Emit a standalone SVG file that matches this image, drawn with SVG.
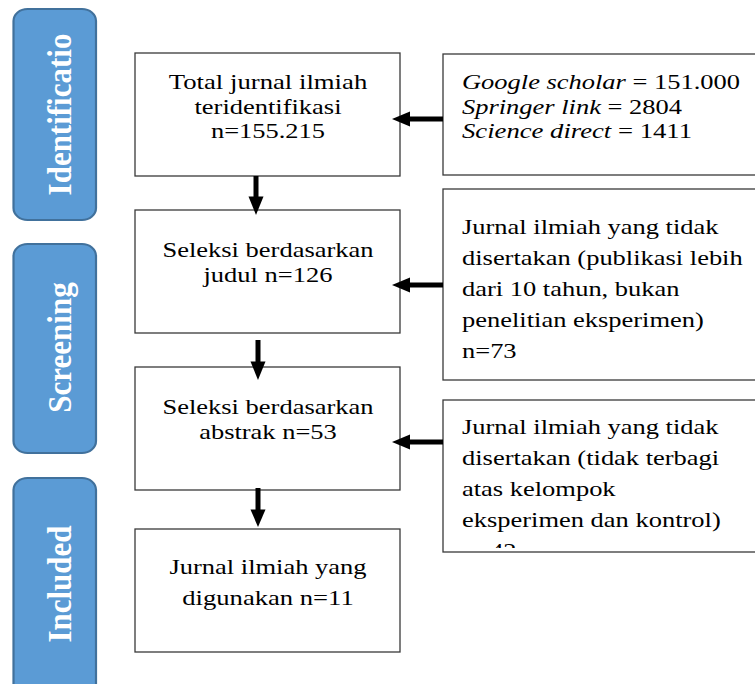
<svg xmlns="http://www.w3.org/2000/svg" width="755" height="684" viewBox="0 0 755 684">
<style>
.bg{fill:#ffffff}
.box{fill:#ffffff;stroke:#3a3a3a;stroke-width:1.3}
.lbl{fill:#5B9BD5;stroke:#41719C;stroke-width:2.2}
.t{font-family:"Liberation Serif","Times New Roman","DejaVu Serif",serif;font-size:21px;fill:#000}
.i{font-style:italic}
.lt{font-family:"Liberation Serif","Times New Roman","DejaVu Serif",serif;font-weight:bold;font-size:31px;fill:#ffffff}
.sh{stroke:#000;stroke-width:5;fill:none}
.hd{fill:#000}
</style>
<defs>
<clipPath id="clipR3"><rect x="443" y="400" width="320" height="148"/></clipPath>
</defs>
<rect class="bg" x="0" y="0" width="755" height="684"/>

<g id="label-identification">
<rect class="lbl" x="13.5" y="9" width="82.5" height="211" rx="14" ry="12"/>
<text class="lt" text-anchor="middle" transform="translate(71,114.5) scale(1.08,1) rotate(-90)">Identificatio</text>
</g>
<g id="label-screening">
<rect class="lbl" x="13.5" y="244" width="82.5" height="209" rx="14" ry="12"/>
<text class="lt" text-anchor="middle" transform="translate(71,347.5) scale(1.08,1) rotate(-90)">Screening</text>
</g>
<g id="label-included">
<rect class="lbl" x="13.5" y="478" width="82.5" height="220" rx="14" ry="12"/>
<text class="lt" text-anchor="middle" transform="translate(71,584) scale(1.08,1) rotate(-90)">Included</text>
</g>

<g id="box-total">
<rect class="box" x="135" y="53" width="265" height="123"/>
<text class="t" text-anchor="middle" x="268" y="89" textLength="198.5" lengthAdjust="spacingAndGlyphs">Total jurnal ilmiah</text>
<text class="t" text-anchor="middle" x="268" y="113.5" textLength="147" lengthAdjust="spacingAndGlyphs">teridentifikasi</text>
<text class="t" text-anchor="middle" x="268" y="138" textLength="114" lengthAdjust="spacingAndGlyphs">n=155.215</text>
</g>
<g id="box-judul">
<rect class="box" x="135" y="210" width="265" height="123"/>
<text class="t" text-anchor="middle" x="268" y="257" textLength="211" lengthAdjust="spacingAndGlyphs">Seleksi berdasarkan</text>
<text class="t" text-anchor="middle" x="268" y="282" textLength="129" lengthAdjust="spacingAndGlyphs">judul n=126</text>
</g>
<g id="box-abstrak">
<rect class="box" x="135" y="367" width="265" height="123"/>
<text class="t" text-anchor="middle" x="268" y="414" textLength="211" lengthAdjust="spacingAndGlyphs">Seleksi berdasarkan</text>
<text class="t" text-anchor="middle" x="268" y="439" textLength="137.6" lengthAdjust="spacingAndGlyphs">abstrak n=53</text>
</g>
<g id="box-digunakan">
<rect class="box" x="135" y="529" width="265" height="123"/>
<text class="t" text-anchor="middle" x="268" y="574" textLength="197" lengthAdjust="spacingAndGlyphs">Jurnal ilmiah yang</text>
<text class="t" text-anchor="middle" x="268" y="605" textLength="171.5" lengthAdjust="spacingAndGlyphs">digunakan n=11</text>
</g>

<g id="box-sources">
<rect class="box" x="443" y="54" width="320" height="121"/>
<text class="t" x="462" y="89" textLength="278" lengthAdjust="spacingAndGlyphs"><tspan class="i">Google scholar</tspan> = 151.000</text>
<text class="t" x="462" y="113.5" textLength="220" lengthAdjust="spacingAndGlyphs"><tspan class="i">Springer link</tspan> = 2804</text>
<text class="t" x="462" y="138" textLength="230" lengthAdjust="spacingAndGlyphs"><tspan class="i">Science direct</tspan> = 1411</text>
</g>
<g id="box-excluded-judul">
<rect class="box" x="443" y="189" width="320" height="191"/>
<text class="t" x="462" y="234" textLength="256.5" lengthAdjust="spacingAndGlyphs">Jurnal ilmiah yang tidak</text>
<text class="t" x="462" y="265" textLength="280.7" lengthAdjust="spacingAndGlyphs">disertakan (publikasi lebih</text>
<text class="t" x="462" y="296" textLength="217.5" lengthAdjust="spacingAndGlyphs">dari 10 tahun, bukan</text>
<text class="t" x="462" y="327" textLength="241.8" lengthAdjust="spacingAndGlyphs">penelitian eksperimen)</text>
<text class="t" x="462" y="358" textLength="54.6" lengthAdjust="spacingAndGlyphs">n=73</text>
</g>
<g id="box-excluded-abstrak">
<rect class="box" x="443" y="400" width="320" height="152"/>
<g clip-path="url(#clipR3)">
<text class="t" x="462" y="434" textLength="256.5" lengthAdjust="spacingAndGlyphs">Jurnal ilmiah yang tidak</text>
<text class="t" x="462" y="465" textLength="257.2" lengthAdjust="spacingAndGlyphs">disertakan (tidak terbagi</text>
<text class="t" x="462" y="496" textLength="153.6" lengthAdjust="spacingAndGlyphs">atas kelompok</text>
<text class="t" x="462" y="527" textLength="258.7" lengthAdjust="spacingAndGlyphs">eksperimen dan kontrol)</text>
<text class="t" x="462" y="558" textLength="54.6" lengthAdjust="spacingAndGlyphs">n=42</text>
</g>
</g>

<g id="connectors">
<line class="sh" x1="443" y1="119" x2="408" y2="119"/>
<polygon class="hd" points="392,119 410,111.5 410,126.5"/>
<line class="sh" x1="443" y1="285" x2="408" y2="285"/>
<polygon class="hd" points="392,285 410,277.5 410,292.5"/>
<line class="sh" x1="443" y1="442" x2="408" y2="442"/>
<polygon class="hd" points="392,442 410,434.5 410,449.5"/>
<line class="sh" x1="256" y1="176" x2="256" y2="198"/>
<polygon class="hd" points="256,215 248.5,196.5 263.5,196.5"/>
<line class="sh" x1="258" y1="340" x2="258" y2="363"/>
<polygon class="hd" points="258,380 250.5,361.5 265.5,361.5"/>
<line class="sh" x1="258" y1="488" x2="258" y2="511"/>
<polygon class="hd" points="258,527 250.5,509.5 265.5,509.5"/>
</g>
</svg>
